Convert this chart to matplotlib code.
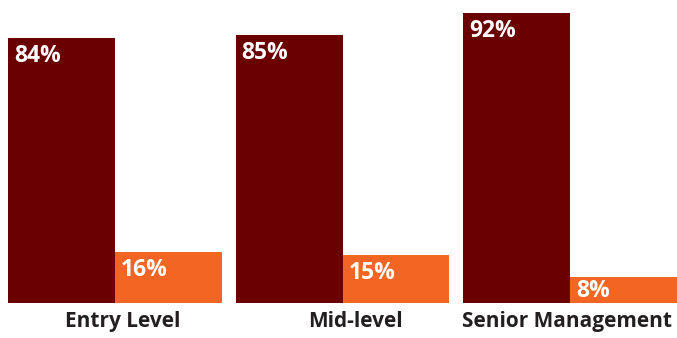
import matplotlib.pyplot as plt
import numpy as np

################# DATA #################

categories = ['Entry Level', 'Mid-level', 'Senior Management']
dark_values = [84, 85, 92]
orange_values = [16, 15, 8]

################# STYLE #################

DARK = '#6b0000'
ORANGE = '#f26522'
TEXT = '#231f20'
W, H = 677, 338

plt.rcParams['font.family'] = ['Open Sans', 'DejaVu Sans']

fig = plt.figure(figsize=(W / 100, H / 100), dpi=100)
# axes placed in pixel terms: x 8..677, baseline at y=302.5, top (93%) at y=10
ax = fig.add_axes([8 / W, (H - 302.5) / H, (W - 8) / W, (302.5 - 10) / H])

x = np.arange(len(categories))
width = 107 / 228

bars_dark = ax.bar(x - width, dark_values, width, align='edge', color=DARK, linewidth=0)
bars_orange = ax.bar(x, orange_values, width, align='edge', color=ORANGE, linewidth=0)

ax.set_xlim(-width, len(categories) - 1 + width)
ax.set_ylim(0, 93)

# value labels inside the top-left corner of each bar
px_per_unit = (302.5 - 10) / 93
for bars, vals in [(bars_dark, dark_values), (bars_orange, orange_values)]:
    for rect, v in zip(bars, vals):
        h_px = v * px_per_unit
        drop = min(24, h_px - 5.5)
        ax.annotate(f'{v}%', xy=(rect.get_x(), rect.get_height()),
                    xytext=(6, -drop), textcoords='offset pixels',
                    ha='left', va='baseline', color='white',
                    fontsize=16.5, fontweight='bold')

# category labels below the groups
label_shift = [0.035, 0.055, -0.013]
ax.set_xticks(x + np.array(label_shift))
ax.set_xticklabels(categories, fontsize=15, fontweight='bold', color=TEXT)
ax.tick_params(axis='x', length=0, pad=6)
ax.set_yticks([])

for s in ax.spines.values():
    s.set_visible(False)

fig.savefig('out.png', dpi=100)
